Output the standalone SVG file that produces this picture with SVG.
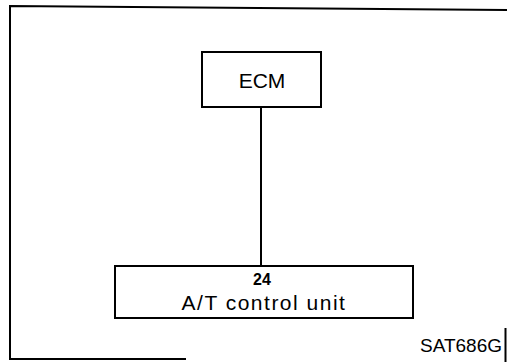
<svg xmlns="http://www.w3.org/2000/svg" width="507" height="362" viewBox="0 0 507 362">
<style>
.box{fill:#fff;stroke:#000;stroke-width:2}
.frame{fill:none;stroke:#000;stroke-width:2}
.t{font-family:"Liberation Sans",Arial,sans-serif;fill:#000}
</style>
<rect width="507" height="362" fill="#fff"/>
<g id="frame">
<polyline class="frame" points="507,10 10,6 10,359 186,359"/>
<line class="frame" x1="505.5" y1="328" x2="505.5" y2="362" stroke-width="1.5"/>
<text class="t" x="420" y="352" font-size="19">SAT686G</text>
</g>
<g id="connectors">
<line x1="261" y1="107" x2="261" y2="266" stroke="#000" stroke-width="2"/>
</g>
<g id="ecm">
<rect class="box" x="202" y="52" width="119" height="55"/>
<text class="t" x="262" y="88" font-size="21" text-anchor="middle">ECM</text>
</g>
<g id="atcu">
<rect class="box" x="115" y="266" width="298" height="52"/>
<text class="t" x="262" y="285" font-size="16" font-weight="bold" text-anchor="middle">24</text>
<text class="t" x="264" y="310" font-size="21" letter-spacing="1.5" text-anchor="middle">A/T control unit</text>
</g>
</svg>
